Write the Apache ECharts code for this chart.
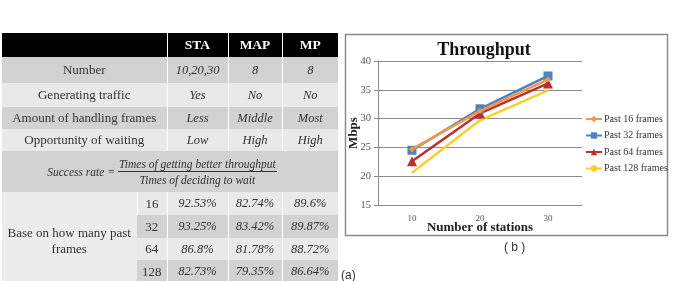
<!DOCTYPE html>
<html>
<head>
<meta charset="utf-8">
<script src="https://cdn.jsdelivr.net/npm/echarts@6/dist/echarts.min.js"></script>
<style>
  html, body { margin: 0; padding: 0; background: #fff; }
  #chart { position: absolute; left: 0; top: 0; width: 675px; height: 281px; }
  #tblwrap { position: absolute; left: 2px; top: 33px; width: 336px; height: 248px; overflow: hidden; z-index: 2; }
  table { border-collapse: collapse; table-layout: fixed; width: 336px; font-family: "Liberation Serif", "DejaVu Serif", serif; color: #333; }
  td, th { padding: 0; text-align: center; vertical-align: middle; border-left: 1px solid #fff; white-space: nowrap; overflow: hidden; }
  td:first-child, th:first-child { border-left: none; }
  th { background: #000; color: #fff; font-weight: bold; font-size: 13.5px; height: 24px; }
  td { font-size: 13px; }
  td.v { font-style: italic; font-size: 12.5px; }
  tr.g td { background: #d2d2d2; }
  tr.l td { background: #e9e9e9; }
  td.base { background: #ececec !important; white-space: normal; line-height: 16px; font-size: 13px; padding-top: 6px; }
  .formula { display: flex; align-items: center; justify-content: center; font-style: italic; font-size: 11.5px; padding-right: 16px; }
  .frac { display: inline-flex; flex-direction: column; align-items: center; margin-left: 3px; }
  .frac .num { border-bottom: 1px solid #333; padding: 0 1px 1px 1px; }
  .frac .den { padding-top: 2px; }
</style>
</head>
<body>
<div id="chart"></div>
<div id="tblwrap"></div>
<script>
// ---------- data: table (a) ----------
var tableColumns = ["STA", "MAP", "MP"];
var tableRowLabels = ["Number", "Generating traffic", "Amount of handling frames", "Opportunity of waiting"];
var tableRowValues = [
  ["10,20,30", "8", "8"],
  ["Yes", "No", "No"],
  ["Less", "Middle", "Most"],
  ["Low", "High", "High"]
];
var formulaLeft = "Success rate =";
var formulaNumerator = "Times of  getting better throughput";
var formulaDenominator = "Times of  deciding to wait";
var pastFramesLabel = "Base on how many past frames";
var pastFrames = ["16", "32", "64", "128"];
var successSTA = ["92.53%", "93.25%", "86.8%", "82.73%"];
var successMAP = ["82.74%", "83.42%", "81.78%", "79.35%"];
var successMP  = ["89.6%", "89.87%", "88.72%", "86.64%"];

// ---------- data: chart (b) ----------
var chartTitle = "Throughput";
var stations = ["10", "20", "30"];
var seriesNames = ["Past 16 frames", "Past 32 frames", "Past 64 frames", "Past 128 frames"];
var past16  = [24.7, 31.3, 36.8];
var past32  = [24.5, 31.7, 37.4];
var past64  = [22.6, 30.9, 36.1];
var past128 = [20.6, 29.7, 34.9];
var yTicks = [15, 20, 25, 30, 35, 40];

// ---------- build table ----------
(function () {
  var rowH = [26, 24, 22, 22];
  var cls = ["g", "l", "g", "l"];
  var h = '<table><colgroup><col style="width:135px"><col style="width:30px"><col style="width:61px"><col style="width:54px"><col style="width:56px"></colgroup>';
  h += '<tr><th colspan="2"></th>';
  tableColumns.forEach(function (c) { h += '<th>' + c + '</th>'; });
  h += '</tr>';
  tableRowLabels.forEach(function (lab, i) {
    h += '<tr class="' + cls[i] + '" style="height:' + rowH[i] + 'px"><td colspan="2">' + lab + '</td>';
    tableRowValues[i].forEach(function (v) { h += '<td class="v">' + v + '</td>'; });
    h += '</tr>';
  });
  h += '<tr class="g" style="height:41px"><td colspan="5"><div class="formula"><span>' + formulaLeft +
       '</span><span class="frac"><span class="num">' + formulaNumerator + '</span><span class="den">' +
       formulaDenominator + '</span></span></div></td></tr>';
  var bh = [23, 23, 22, 23];
  var bc = ["l", "g", "l", "g"];
  pastFrames.forEach(function (p, i) {
    h += '<tr class="' + bc[i] + '" style="height:' + bh[i] + 'px">';
    if (i === 0) h += '<td class="base" rowspan="4">' + pastFramesLabel + '</td>';
    h += '<td>' + p + '</td><td class="v">' + successSTA[i] + '</td><td class="v">' + successMAP[i] +
         '</td><td class="v">' + successMP[i] + '</td></tr>';
  });
  h += '</table>';
  document.getElementById('tblwrap').innerHTML = h;
})();

// ---------- build chart ----------
var chart = echarts.init(document.getElementById('chart'), null, { renderer: 'canvas' });
var serif = '"Liberation Serif", "DejaVu Serif", serif';
var colors = ['#F79646', '#4F81BD', '#B8312F', '#F7CF2E'];
var symbols = ['diamond', 'rect', 'triangle', 'none'];
var symbolSizes = [6, 9, 10, 0];
var values = [past16, past32, past64, past128];

var option = {
  animation: false,
  title: {
    text: chartTitle, left: 479, top: 36, textAlign: 'center',
    textStyle: { fontFamily: serif, fontWeight: 'bold', fontSize: 18, color: '#111' }
  },
  legend: {
    orient: 'vertical', left: 580, top: 109, itemGap: 6.5, itemWidth: 16, itemHeight: 8,
    data: seriesNames,
    textStyle: { fontFamily: serif, fontSize: 10, color: '#333', padding: [0, 0, 0, -3] }
  },
  grid: { left: 378, top: 61, width: 204, height: 144, containLabel: false },
  xAxis: {
    type: 'category', data: stations, boundaryGap: true,
    name: 'Number of stations', nameLocation: 'middle', nameGap: 16, nameMoveOverlap: false,
    nameTextStyle: { fontFamily: serif, fontWeight: 'bold', fontSize: 13, color: '#222' },
    axisLine: { lineStyle: { color: '#8c8c8c', width: 1 } },
    axisTick: { show: false },
    axisLabel: { fontFamily: serif, fontSize: 9, color: '#555', margin: 9 }
  },
  yAxis: {
    type: 'value', min: yTicks[0], max: yTicks[yTicks.length - 1], interval: 5,
    name: 'Mbps', nameLocation: 'middle', nameGap: 18, nameMoveOverlap: false,
    nameTextStyle: { fontFamily: serif, fontWeight: 'bold', fontSize: 13, color: '#222' },
    axisLine: { show: true, lineStyle: { color: '#8c8c8c', width: 1 } },
    axisTick: { show: true, length: 4, lineStyle: { color: '#8c8c8c' } },
    axisLabel: { fontFamily: serif, fontSize: 10.5, color: '#555', margin: 7 },
    splitLine: { lineStyle: { color: '#8c8c8c', width: 1 } }
  },
  series: seriesNames.map(function (n, i) {
    return {
      name: n, type: 'line', data: values[i],
      symbol: symbols[i], symbolSize: symbolSizes[i], showSymbol: symbols[i] !== 'none',
      lineStyle: { color: colors[i], width: 2.5 },
      itemStyle: { color: colors[i] },
      z: 10 - i
    };
  }),
  graphic: [
    { type: 'rect', shape: { x: 345.5, y: 34.5, width: 322, height: 201 }, style: { fill: null, stroke: '#8a8a8a', lineWidth: 1.5 }, z: -1 },
    { type: 'text', left: 504, top: 242, style: { text: '( b )', fontFamily: '"Liberation Sans", Arial, sans-serif', fontSize: 12, fill: '#333' } },
    { type: 'text', left: 341, top: 270, style: { text: '(a)', fontFamily: '"Liberation Sans", Arial, sans-serif', fontSize: 12, fill: '#333' } }
  ]
};
chart.setOption(option);
</script>
</body>
</html>
